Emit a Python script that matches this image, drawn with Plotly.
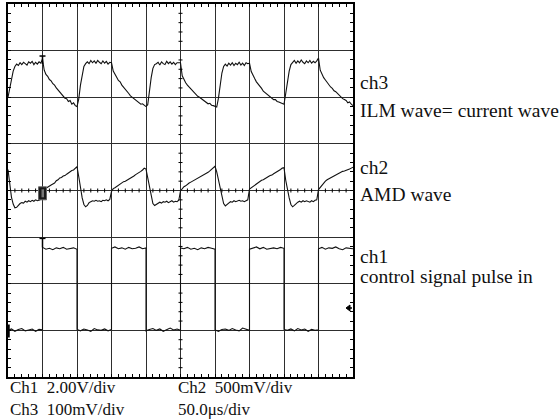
import plotly.graph_objects as go

# ---------------- data (in graticule divisions) ----------------
# time base: 10 horizontal divisions, sampled every 0.05 div
t = [i * 0.05 for i in range(201)]

# ch3 : ILM wave = current wave (div, centre line = 0)
ch3 = [
    2.00, 2.18, 2.40, 2.56, 2.66, 2.71, 2.68, 2.74, 2.70, 2.75, 2.72, 2.69, 2.76, 2.73, 2.77, 2.70, 2.75, 2.71, 2.76, 2.73,
    2.82, 2.58, 2.49, 2.45, 2.38, 2.35, 2.29, 2.26, 2.20, 2.16, 2.12, 2.06, 2.04, 1.98, 1.97, 1.91, 1.93, 1.85, 1.88, 1.82,
    1.80, 1.96, 2.26, 2.50, 2.66, 2.72, 2.76, 2.72, 2.79, 2.74, 2.78, 2.73, 2.79, 2.75, 2.72, 2.78, 2.73, 2.77, 2.71, 2.75,
    2.74, 2.56, 2.48, 2.43, 2.36, 2.33, 2.26, 2.22, 2.17, 2.12, 2.08, 2.03, 2.00, 1.97, 1.93, 1.90, 1.88, 1.85, 1.86, 1.82,
    1.80, 1.84, 2.15, 2.42, 2.62, 2.70, 2.72, 2.75, 2.69, 2.76, 2.72, 2.70, 2.77, 2.72, 2.76, 2.71, 2.75, 2.70, 2.74, 2.74,
    2.74, 2.46, 2.37, 2.31, 2.26, 2.22, 2.16, 2.13, 2.08, 2.06, 2.02, 2.00, 1.97, 1.95, 1.91, 1.90, 1.86, 1.87, 1.83, 1.82,
    1.80, 1.79, 1.98, 2.30, 2.52, 2.66, 2.71, 2.67, 2.73, 2.69, 2.74, 2.68, 2.73, 2.70, 2.75, 2.69, 2.73, 2.68, 2.74, 2.72,
    2.73, 2.55, 2.46, 2.40, 2.33, 2.29, 2.23, 2.19, 2.13, 2.10, 2.05, 2.04, 1.99, 1.98, 1.95, 1.95, 1.91, 1.90, 1.88, 1.86,
    1.85, 2.08, 2.36, 2.56, 2.70, 2.76, 2.79, 2.73, 2.78, 2.74, 2.80, 2.75, 2.72, 2.78, 2.74, 2.79, 2.73, 2.77, 2.74, 2.78,
    2.84, 2.58, 2.48, 2.42, 2.37, 2.31, 2.28, 2.22, 2.19, 2.14, 2.12, 2.08, 2.05, 2.02, 1.97, 1.95, 1.93, 1.88, 1.90, 1.85,
    1.82,
]

# ch2 : AMD wave
ch2 = [
    0.45, 0.12, -0.14, -0.29, -0.37, -0.36, -0.31, -0.28, -0.26, -0.27, -0.23, -0.25, -0.22, -0.24, -0.21, -0.23, -0.20, -0.22, -0.21, -0.19,
    -0.04, 0.03, 0.05, 0.08, 0.09, 0.12, 0.14, 0.16, 0.21, 0.23, 0.27, 0.28, 0.31, 0.32, 0.35, 0.38, 0.39, 0.43, 0.44, 0.48,
    0.51, 0.30, 0.05, -0.16, -0.30, -0.35, -0.32, -0.26, -0.24, -0.22, -0.23, -0.21, -0.23, -0.22, -0.24, -0.21, -0.22, -0.20, -0.22, -0.19,
    -0.02, 0.04, 0.06, 0.09, 0.12, 0.13, 0.16, 0.19, 0.20, 0.22, 0.24, 0.27, 0.29, 0.31, 0.34, 0.36, 0.39, 0.41, 0.44, 0.48,
    0.46, 0.28, 0.05, -0.15, -0.28, -0.32, -0.29, -0.26, -0.25, -0.27, -0.24, -0.25, -0.23, -0.26, -0.24, -0.22, -0.25, -0.23, -0.24, -0.21,
    -0.01, 0.04, 0.08, 0.10, 0.14, 0.16, 0.18, 0.20, 0.22, 0.25, 0.27, 0.28, 0.31, 0.32, 0.35, 0.37, 0.39, 0.42, 0.45, 0.49,
    0.52, 0.40, 0.22, 0.05, -0.15, -0.28, -0.33, -0.30, -0.26, -0.24, -0.25, -0.22, -0.24, -0.23, -0.21, -0.23, -0.22, -0.24, -0.21, -0.20,
    0.03, 0.06, 0.08, 0.12, 0.15, 0.17, 0.19, 0.22, 0.23, 0.26, 0.28, 0.30, 0.32, 0.33, 0.36, 0.38, 0.40, 0.43, 0.45, 0.48,
    0.49, 0.22, 0.00, -0.16, -0.30, -0.35, -0.32, -0.28, -0.25, -0.23, -0.25, -0.22, -0.24, -0.22, -0.23, -0.25, -0.22, -0.24, -0.21, -0.20,
    0.02, 0.07, 0.12, 0.17, 0.20, 0.23, 0.25, 0.27, 0.30, 0.32, 0.34, 0.35, 0.37, 0.39, 0.41, 0.42, 0.43, 0.45, 0.46, 0.48,
    0.50,
]

# ch1 : control signal pulse (one list per division, 11 samples each, 0.1 div apart)
ch1_segments = [
    [-3.00, -2.97, -3.02, -2.98, -2.96, -3.01, -2.99, -2.97, -3.02, -2.98, -2.99],
    [-1.22, -1.26, -1.24, -1.27, -1.23, -1.25, -1.22, -1.26, -1.24, -1.23, -1.26],
    [-2.98, -3.01, -2.97, -2.99, -3.02, -2.96, -2.99, -3.00, -2.97, -3.01, -2.98],
    [-1.24, -1.21, -1.25, -1.23, -1.26, -1.22, -1.25, -1.24, -1.21, -1.25, -1.23],
    [-3.01, -2.98, -2.96, -3.00, -2.97, -3.02, -2.98, -2.95, -2.99, -2.97, -3.00],
    [-1.23, -1.25, -1.22, -1.26, -1.24, -1.27, -1.23, -1.25, -1.22, -1.24, -1.26],
    [-2.99, -3.02, -2.98, -2.97, -3.00, -2.96, -2.99, -3.01, -2.95, -2.98, -3.00],
    [-1.26, -1.23, -1.21, -1.25, -1.22, -1.26, -1.24, -1.23, -1.25, -1.22, -1.24],
    [-2.98, -3.00, -2.97, -3.01, -2.96, -2.99, -2.97, -3.02, -2.98, -3.00, -2.99],
    [-1.25, -1.22, -1.26, -1.23, -1.24, -1.21, -1.25, -1.27, -1.23, -1.24, -1.25],
]
ch1_t = [k + j / 10 for k in range(len(ch1_segments)) for j in range(11)]
ch1 = [v for seg in ch1_segments for v in seg]

trigger_t = 1.0          # trigger position (div)
ch1_ground = -3.0        # ch1 ground marker level (div)
trig_level = -2.52       # trigger level arrow (div)

side_labels = ["ch3", "ILM wave= current wave", "ch2", "AMD wave",
               "ch1", "control signal pulse in"]
bottom_labels = ["Ch1\u00a0\u00a02.00V/div", "Ch2\u00a0\u00a0500mV/div",
                 "Ch3\u00a0\u00a0100mV/div", "50.0\u03bcs/div"]

# ---------------- layout geometry ----------------
W, H = 560, 420
L, R, T, B = 7.5, 353.0, 4.0, 377.0
PW, PH = R - L, B - T


def px(xp):
    return (xp - L) / PW


def py(yp):
    return (B - yp) / PH


FONT = "Liberation Serif, Times New Roman, serif"
INK = "#111111"
GRID = "#2e2e2e"

fig = go.Figure()
for xs, ys in ((t, ch3), (t, ch2), (ch1_t, ch1)):
    fig.add_trace(go.Scatter(x=xs, y=ys, mode="lines",
                             line=dict(color=INK, width=1.1),
                             hoverinfo="skip", showlegend=False))

axis_common = dict(showgrid=True, gridcolor=GRID, gridwidth=1,
                   zeroline=False, showticklabels=False,
                   showline=True, linecolor="#000000", linewidth=2,
                   mirror="allticks", ticks="inside", ticklen=3,
                   tickcolor="#000000", dtick=1,
                   minor=dict(ticks="inside", ticklen=3, dtick=0.2,
                              tickcolor="#000000", showgrid=False))

fig.update_xaxes(range=[0, 10], tick0=0, **axis_common)
fig.update_yaxes(range=[-4, 4], tick0=-4, **axis_common)

shapes = []
# small ticks on centre horizontal line
for i in range(1, 50):
    if i % 5 == 0:
        continue
    xv = i * 0.2
    shapes.append(dict(type="line", xref="x", yref="y", ysizemode="pixel",
                       yanchor=0, x0=xv, x1=xv, y0=-2, y1=2,
                       line=dict(color="#000000", width=1)))
# small ticks on centre vertical line
for i in range(1, 40):
    if i % 5 == 0:
        continue
    yv = -4 + i * 0.2
    shapes.append(dict(type="line", xref="x", yref="y", xsizemode="pixel",
                       xanchor=5, x0=-2, x1=2, y0=yv, y1=yv,
                       line=dict(color="#000000", width=1)))

# trigger "T" on ch3
idx = t.index(trigger_t)
yv = ch3[idx]
shapes.append(dict(type="line", xref="x", yref="y", xsizemode="pixel", ysizemode="pixel",
                   xanchor=trigger_t, yanchor=yv, x0=-3, x1=3, y0=3, y1=3,
                   line=dict(color="#000000", width=1.5)))
shapes.append(dict(type="line", xref="x", yref="y", xsizemode="pixel", ysizemode="pixel",
                   xanchor=trigger_t, yanchor=yv, x0=0, x1=0, y0=3, y1=-5,
                   line=dict(color="#000000", width=1.5)))
# trigger "T" on ch1
yv = ch1_segments[1][0]
shapes.append(dict(type="line", xref="x", yref="y", xsizemode="pixel", ysizemode="pixel",
                   xanchor=trigger_t, yanchor=yv, x0=-3, x1=3, y0=9, y1=9,
                   line=dict(color="#000000", width=1.5)))
shapes.append(dict(type="line", xref="x", yref="y", xsizemode="pixel", ysizemode="pixel",
                   xanchor=trigger_t, yanchor=yv, x0=0, x1=0, y0=9, y1=0,
                   line=dict(color="#000000", width=1.5)))
# box marker on ch2
shapes.append(dict(type="rect", xref="x", yref="y", xsizemode="pixel", ysizemode="pixel",
                   xanchor=trigger_t, yanchor=-0.06, x0=-4, x1=4, y0=-6.5, y1=6.5,
                   fillcolor="#1a1a1a", line=dict(color="#666666", width=1)))
shapes.append(dict(type="rect", xref="x", yref="y", xsizemode="pixel", ysizemode="pixel",
                   xanchor=trigger_t, yanchor=-0.06, x0=-1, x1=1.5, y0=-4, y1=4,
                   fillcolor="#777777", line=dict(width=0)))
# ch1 ground marker at left edge
shapes.append(dict(type="line", xref="x", yref="y", xsizemode="pixel", ysizemode="pixel",
                   xanchor=0, yanchor=ch1_ground, x0=0.5, x1=0.5, y0=6, y1=-7,
                   line=dict(color="#000000", width=2.5)))
# trigger level arrow at right edge
shapes.append(dict(type="path", xref="x", yref="y", xsizemode="pixel", ysizemode="pixel",
                   xanchor=10, yanchor=trig_level,
                   path="M -7,0 L -3,3 L -3,-3 Z",
                   fillcolor="#000000", line=dict(color="#000000", width=1)))
shapes.append(dict(type="line", xref="x", yref="y", xsizemode="pixel", ysizemode="pixel",
                   xanchor=10, yanchor=trig_level, x0=-4, x1=-1, y0=0, y1=0,
                   line=dict(color="#000000", width=1.5)))

annotations = []
side_baselines = [90, 118.5, 175, 202.5, 265, 284.5]
for txt, bl in zip(side_labels, side_baselines):
    annotations.append(dict(text=txt, xref="paper", yref="paper",
                            x=px(358), y=py(bl + 4.5), xanchor="left", yanchor="bottom",
                            showarrow=False, font=dict(family=FONT, size=19.5, color=INK)))
bottom_pos = [(8, 395), (175.5, 395), (8, 416.5), (175.5, 416.5)]
for txt, (xx, bl) in zip(bottom_labels, bottom_pos):
    annotations.append(dict(text=txt, xref="paper", yref="paper",
                            x=px(xx), y=py(bl + 4), xanchor="left", yanchor="bottom",
                            showarrow=False, font=dict(family=FONT, size=17, color=INK)))

fig.update_layout(width=W, height=H,
                  margin=dict(l=L, r=W - R, t=T, b=H - B, pad=0, autoexpand=False),
                  plot_bgcolor="white", paper_bgcolor="white",
                  showlegend=False, shapes=shapes, annotations=annotations)

fig.write_html("out.html", config={"displayModeBar": False, "staticPlot": True},
               post_script="document.body.style.margin='0';document.body.style.padding='0';")
